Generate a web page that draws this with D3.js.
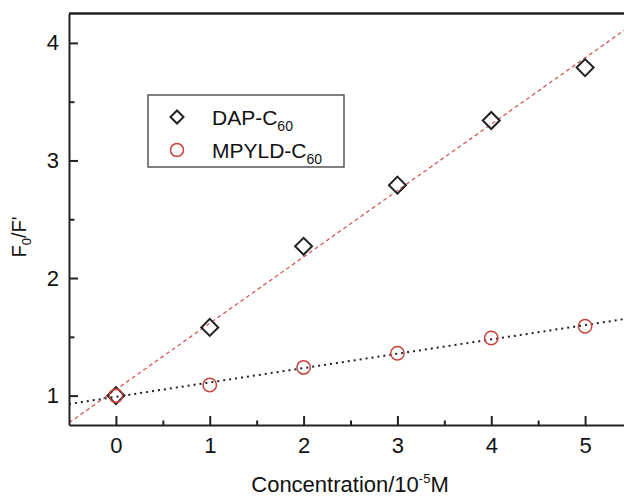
<!DOCTYPE html>
<html>
<head>
<meta charset="utf-8">
<script src="https://cdn.jsdelivr.net/npm/d3@7"></script>
<style>
  body { margin: 0; background: #fff; }
  text { font-family: "Liberation Sans", Arial, sans-serif; fill: #111; }
</style>
</head>
<body>
<div id="chart"></div>
<script>
// Data (concentration in 10^-5 M)
const conc = [0, 1, 2, 3, 4, 5];
const dapValues = [1.00, 1.58, 2.27, 2.79, 3.34, 3.79];
const mpyldValues = [1.00, 1.09, 1.24, 1.36, 1.49, 1.59];
const xTicks = [0, 1, 2, 3, 4, 5];
const xMinorTicks = [0.5, 1.5, 2.5, 3.5, 4.5];
const yTicks = [1, 2, 3, 4];
const yMinorTicks = [1.5, 2.5, 3.5];
const legendNames = ['DAP-C', 'MPYLD-C'];

let width = 624, height = 496;
let plot = { left: 69, right: 632, top: 13.5, bottom: 425 };

let svg = d3.select('#chart')
  .append('svg')
  .attr('width', width)
  .attr('height', height);

// Scales
let xScale = d3.scaleLinear().domain([-0.5, 5.5]).range([plot.left, plot.right]);
let yScale = d3.scaleLinear().domain([0.75, 4.25]).range([plot.bottom, plot.top]);

// least squares fit, as drawn in the figure
function fit(xs, ys) {
  let mx = d3.mean(xs), my = d3.mean(ys);
  let sxy = d3.sum(xs, (x, i) => (x - mx) * (ys[i] - my));
  let sxx = d3.sum(xs, x => (x - mx) * (x - mx));
  let b = sxy / sxx;
  return { slope: b, icept: my - b * mx };
}

svg.append('clipPath').attr('id', 'clip')
  .append('rect')
    .attr('x', plot.left).attr('y', plot.top)
    .attr('width', plot.right - plot.left).attr('height', plot.bottom - plot.top);

let lines = svg.append('g').attr('clip-path', 'url(#clip)');
let fits = [
  { f: fit(conc, dapValues), color: '#d45a5a', dash: '4,3', w: 1.3 },
  { f: fit(conc, mpyldValues), color: '#222', dash: '2,4', w: 2 }
];
fits.forEach(function(d) {
  let x0 = xScale.domain()[0], x1 = xScale.domain()[1];
  lines.append('line')
    .attr('x1', xScale(x0)).attr('y1', yScale(d.f.icept + d.f.slope * x0))
    .attr('x2', xScale(x1)).attr('y2', yScale(d.f.icept + d.f.slope * x1))
    .attr('stroke', d.color)
    .attr('stroke-width', d.w)
    .attr('stroke-dasharray', d.dash);
});

// Axes (ticks pointing inward)
let xAxis = svg.append('g')
  .attr('transform', `translate(0,${plot.bottom})`)
  .call(d3.axisBottom(xScale).tickValues(xTicks).tickFormat(d3.format('d'))
    .tickSizeInner(-9).tickSizeOuter(0).tickPadding(12));
svg.append('g')
  .attr('transform', `translate(0,${plot.bottom})`)
  .call(d3.axisBottom(xScale).tickValues(xMinorTicks).tickSizeInner(-4.5).tickSizeOuter(0).tickFormat(''))
  .select('.domain').remove();

let yAxis = svg.append('g')
  .attr('transform', `translate(${plot.left},0)`)
  .call(d3.axisLeft(yScale).tickValues(yTicks).tickFormat(d3.format('d'))
    .tickSizeInner(-9).tickSizeOuter(0).tickPadding(10));
svg.append('g')
  .attr('transform', `translate(${plot.left},0)`)
  .call(d3.axisLeft(yScale).tickValues(yMinorTicks).tickSizeInner(-5.5).tickSizeOuter(0).tickFormat(''))
  .select('.domain').remove();

svg.selectAll('.tick line').attr('stroke', '#222').attr('stroke-width', 2);
svg.selectAll('.domain').attr('stroke', '#222').attr('stroke-width', 2);
[xAxis, yAxis].forEach(function(a) {
  a.selectAll('text')
    .style('font-family', '"Liberation Sans", Arial, sans-serif')
    .style('font-size', '22px')
    .style('fill', '#111');
});

// top frame line
svg.append('line')
  .attr('x1', plot.left).attr('x2', plot.right)
  .attr('y1', plot.top).attr('y2', plot.top)
  .attr('stroke', '#222').attr('stroke-width', 2.5);

// Markers
let diamond = d3.symbol().type(d3.symbolSquare).size(144);
svg.selectAll('.dap')
  .data(dapValues)
  .enter()
  .append('path')
    .attr('class', 'dap')
    .attr('d', diamond)
    .attr('transform', (d, i) => `translate(${xScale(conc[i])},${yScale(d)}) rotate(45)`)
    .attr('fill', 'none')
    .attr('stroke', '#222')
    .attr('stroke-width', 2);

svg.selectAll('.mpyld')
  .data(mpyldValues)
  .enter()
  .append('circle')
    .attr('class', 'mpyld')
    .attr('cx', (d, i) => xScale(conc[i]))
    .attr('cy', d => yScale(d))
    .attr('r', 6.7)
    .attr('fill', 'none')
    .attr('stroke', '#c8423c')
    .attr('stroke-width', 1.5);

// Axis titles
let xTitle = svg.append('text')
  .attr('x', 350).attr('y', 492)
  .attr('text-anchor', 'middle')
  .style('font-size', '22px');
xTitle.append('tspan').text('Concentration/10');
xTitle.append('tspan').attr('dy', -9).style('font-size', '13px').text('-5');
xTitle.append('tspan').attr('dy', 9).text('M');

let yTitle = svg.append('text')
  .attr('transform', 'translate(26,237) rotate(-90)')
  .attr('text-anchor', 'middle')
  .style('font-size', '20px')
  .style('fill', '#111');
yTitle.append('tspan').text('F');
yTitle.append('tspan').attr('dy', 5).style('font-size', '13px').text('0');
yTitle.append('tspan').attr('dy', -5).text("/F'");

// Legend
let legend = svg.append('g');
legend.append('rect')
  .attr('x', 148).attr('y', 95)
  .attr('width', 196).attr('height', 72)
  .attr('fill', '#fff')
  .attr('stroke', '#555')
  .attr('stroke-width', 1.5);
legend.append('path')
  .attr('d', d3.symbol().type(d3.symbolSquare).size(85))
  .attr('transform', 'translate(177,117) rotate(45)')
  .attr('fill', 'none').attr('stroke', '#222').attr('stroke-width', 2);
legend.append('circle')
  .attr('cx', 177).attr('cy', 150).attr('r', 6.5)
  .attr('fill', 'none').attr('stroke', '#c8423c').attr('stroke-width', 1.5);
legendNames.forEach(function(name, i) {
  let t = legend.append('text')
    .attr('x', 212).attr('y', 125 + i * 33)
    .style('font-size', '21px');
  t.append('tspan').text(name);
  t.append('tspan').attr('dy', 6).style('font-size', '14px').text('60');
});
</script>
</body>
</html>
